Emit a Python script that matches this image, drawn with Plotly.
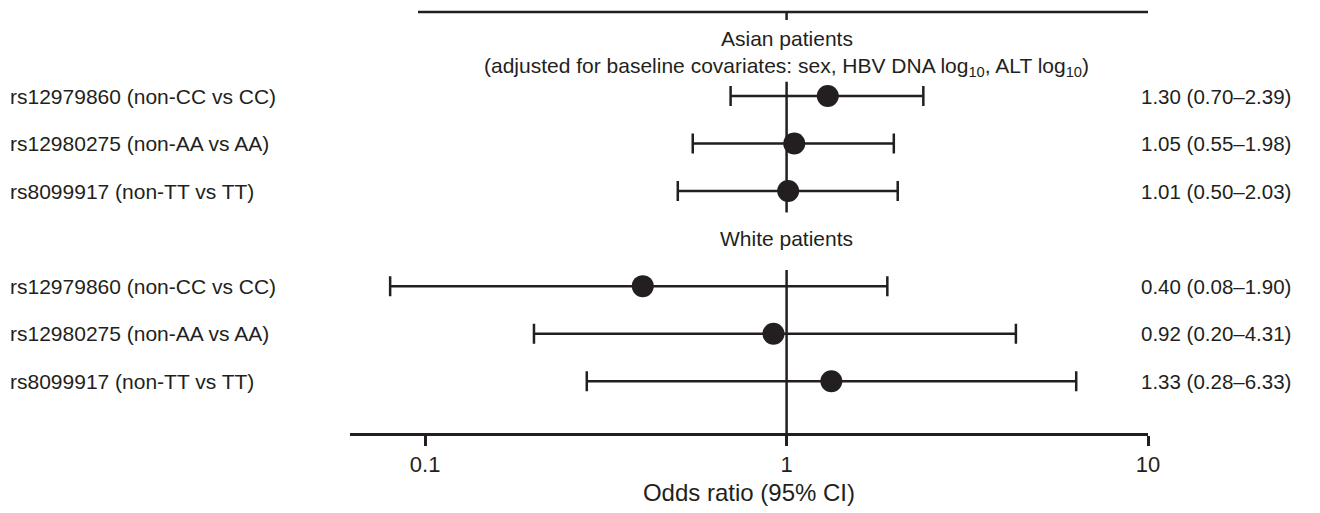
import plotly.graph_objects as go
import math

# ---- data ----
groups = ["Asian patients", "White patients"]
snps = ["rs12979860 (non-CC vs CC)", "rs12980275 (non-AA vs AA)", "rs8099917 (non-TT vs TT)"]
asian_or = [1.30, 1.05, 1.01]
asian_lo = [0.70, 0.55, 0.50]
asian_hi = [2.39, 1.98, 2.03]
white_or = [0.40, 0.92, 1.33]
white_lo = [0.08, 0.20, 0.28]
white_hi = [1.90, 4.31, 6.33]
tick_vals = [0.1, 1, 10]
tick_text = ["0.1", "1", "10"]

INK = "#231f20"
FONT = "Liberation Sans, Arial, Helvetica, sans-serif"
FS = 21

# row layout (row units): Asian rows 0..2, White header 3, White rows 4..6
asian_rows = [0, 1, 2]
white_rows = [4, 5, 6]
rows = asian_rows + white_rows
ors = asian_or + white_or
los = asian_lo + white_lo
his = asian_hi + white_hi
labels = snps + snps

xr = [-1.208, 1.0]
yr = [7.09, -2.02]

def xpaper(v):
    return (math.log10(v) - xr[0]) / (xr[1] - xr[0])

def ypaper(r):
    return (r - yr[0]) / (yr[1] - yr[0])

fig = go.Figure()

# reference line at OR = 1 (two segments)
fig.add_trace(go.Scatter(x=[1, 1], y=[-0.3, 2.45], mode="lines",
                         line=dict(color=INK, width=2.5), hoverinfo="skip", showlegend=False))
fig.add_trace(go.Scatter(x=[1, 1], y=[3.66, 7.09], mode="lines",
                         line=dict(color=INK, width=2.5), hoverinfo="skip", showlegend=False))

fig.add_trace(go.Scatter(
    x=ors, y=rows, mode="markers",
    marker=dict(size=22, color=INK),
    error_x=dict(type="data", symmetric=False,
                 array=[h - o for h, o in zip(his, ors)],
                 arrayminus=[o - l for o, l in zip(ors, los)],
                 color=INK, thickness=2.5, width=10),
    showlegend=False, hoverinfo="skip"))

ann = []
for r, lab, o, l, h in zip(rows, labels, ors, los, his):
    ann.append(dict(x=(8 - 350) / 798, y=r, xref="paper", yref="y", text=lab,
                    xanchor="left", yanchor="middle", showarrow=False,
                    font=dict(size=FS, color=INK, family=FONT)))
    ann.append(dict(x=(1293 - 350) / 798, y=r, xref="paper", yref="y",
                    text=f"{o:.2f} ({l:.2f}\u2013{h:.2f})",
                    xanchor="right", yanchor="middle", showarrow=False,
                    font=dict(size=20.5, color=INK, family=FONT)))

ann.append(dict(x=xpaper(1), y=-1.22, xref="paper", yref="y", text=groups[0],
                showarrow=False, xanchor="center", yanchor="middle",
                font=dict(size=FS, color=INK, family=FONT)))
ann.append(dict(x=xpaper(1), y=-0.61, xref="paper", yref="y",
                text="(adjusted for baseline covariates: sex, HBV DNA log<sub>10</sub>, ALT log<sub>10</sub>)",
                showarrow=False, xanchor="center", yanchor="middle",
                font=dict(size=FS, color=INK, family=FONT)))
ann.append(dict(x=xpaper(1), y=3, xref="paper", yref="y", text=groups[1],
                showarrow=False, xanchor="center", yanchor="middle",
                font=dict(size=FS, color=INK, family=FONT)))

shapes = [
    dict(type="line", xref="paper", yref="paper", x0=(418 - 350) / 798, x1=1.0,
         y0=ypaper(-1.77), y1=ypaper(-1.77), line=dict(color=INK, width=2.5)),
    dict(type="line", xref="paper", yref="paper", x0=xpaper(1), x1=xpaper(1),
         y0=ypaper(-1.77), y1=ypaper(-1.60), line=dict(color=INK, width=2.5)),
]

fig.update_layout(
    width=1320, height=513,
    margin=dict(l=350, r=172, t=0, b=80),
    paper_bgcolor="white", plot_bgcolor="white",
    annotations=ann, shapes=shapes,
    font=dict(family=FONT, color=INK, size=FS),
    xaxis=dict(type="log", range=xr, tickvals=tick_vals, ticktext=tick_text,
               showline=True, linecolor=INK, linewidth=2.5,
               ticks="outside", ticklen=10, tickwidth=2.5, tickcolor=INK,
               showgrid=False, zeroline=False,
               tickfont=dict(size=22, color=INK, family=FONT),
               title=dict(text="Odds ratio (95% CI)", standoff=9,
                          font=dict(size=24, color=INK, family=FONT))),
    yaxis=dict(range=yr, visible=False, showgrid=False, zeroline=False),
)

fig.write_html("out.html", config={"displayModeBar": False},
               post_script="document.body.style.margin='0';document.body.style.overflow='hidden';")
